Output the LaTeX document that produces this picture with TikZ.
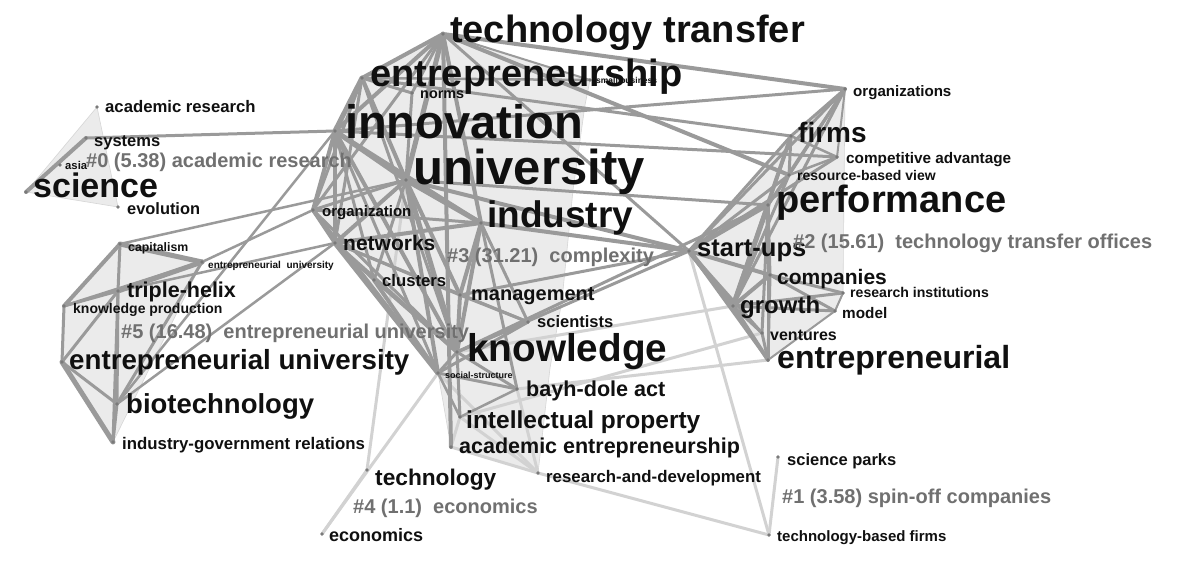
\documentclass[tikz,border=0pt]{standalone}
\usepackage{fontspec}
\setmainfont{Liberation Sans}
\definecolor{edgec}{HTML}{9A9A9A}
\definecolor{lightc}{HTML}{D2D2D2}
\definecolor{hullc}{HTML}{EBEBEB}
\definecolor{hulld}{HTML}{D6D6D6}
\definecolor{labc}{HTML}{101010}
\definecolor{clc}{HTML}{707070}
\definecolor{dotc}{HTML}{7A7A7A}
\tikzset{
  kwlab/.style={anchor=base west,inner sep=0pt,text=labc},
  cllab/.style={anchor=base west,inner sep=0pt,text=clc},
  edge/.style={draw=edgec,line cap=round},
  ledge/.style={draw=lightc,line width=3pt,line cap=round},
  hull/.style={fill=hullc,draw=hulld,line width=0.6pt,line join=round},
  kwdot/.style={fill=dotc,draw=none}
}
\newcommand\kw[5]{\node[kwlab,font=\fontsize{#4}{#4}\selectfont\bfseries] (#1-l) at (#2,#3) {#5};}
\newcommand\cl[5]{\node[cllab,font=\fontsize{#4}{#4}\selectfont\bfseries] (#1) at (#2,#3) {#5};}
\begin{document}
\begin{tikzpicture}[x=1pt,y=-1pt]
\useasboundingbox (0,0) rectangle (1181,561);
\fill[white] (0,0) rectangle (1181,561);
% keyword points
\coordinate (tt) at (443,34);
\coordinate (ent) at (362,78);
\coordinate (norms) at (412,93);
\coordinate (sb) at (590,80);
\coordinate (inn) at (335,131);
\coordinate (uni) at (406,180);
\coordinate (ind) at (481,223);
\coordinate (org) at (313,210);
\coordinate (net) at (335,243);
\coordinate (clu) at (374,280);
\coordinate (mgmt) at (460,295);
\coordinate (scie) at (528,322);
\coordinate (kno) at (457,352);
\coordinate (soc) at (438,373);
\coordinate (bda) at (517,389);
\coordinate (ip) at (460,417);
\coordinate (ae) at (451,447);
\coordinate (tech) at (367,470);
\coordinate (econ) at (322,534);
\coordinate (rd) at (538,473);
\coordinate (sp) at (778,457);
\coordinate (tbf) at (769,535);
\coordinate (entl) at (768,360);
\coordinate (ven) at (762,333);
\coordinate (gro) at (733,306);
\coordinate (mod) at (835,311);
\coordinate (ri) at (843,293);
\coordinate (comp) at (770,275);
\coordinate (su) at (689,251);
\coordinate (perf) at (768,205);
\coordinate (rbv) at (789,175);
\coordinate (ca) at (837,157);
\coordinate (firms) at (791,136);
\coordinate (orgs) at (845,89);
\coordinate (ar) at (97,107);
\coordinate (sys) at (86,138);
\coordinate (asia) at (60,165);
\coordinate (sci) at (26,192);
\coordinate (evo) at (118,207);
\coordinate (cap) at (120,244);
\coordinate (eu2) at (202,262);
\coordinate (th) at (118,291);
\coordinate (kp) at (64,306);
\coordinate (eu) at (62,362);
\coordinate (bio) at (117,404);
\coordinate (igr) at (113,442);
\coordinate (h3a) at (585,105);
\coordinate (h3b) at (573,190);
\coordinate (h3c) at (562,300);
\coordinate (h3d) at (550,368);
% cluster hulls
\path[hull] (ar) -- (sci) -- (evo) -- cycle;
\path[hull] (cap) -- (eu2) -- (igr) -- (eu) -- (kp) -- cycle;
\path[hull] (tt) -- (sb) -- (h3a) -- (h3b) -- (h3c) -- (h3d) -- (rd) -- (ae) -- (soc) -- (org) -- (inn) -- (ent) -- cycle;
\path[hull] (orgs) -- (ri) -- (mod) -- (entl) -- (su) -- (firms) -- cycle;
% light edges
\foreach \a/\b in {su/tbf,sp/tbf,rd/tbf,econ/tech,econ/soc,tech/uni,bda/entl,ip/ven,kno/gro,ae/rd,ip/rd,bda/rd,soc/rd,ae/ip}
  \draw[ledge] (\a) -- (\b);
% dark edges
\foreach \a/\b/\w in {sci/sys/4,sys/inn/3,
  cap/eu2/5,cap/th/3,cap/kp/4,th/eu2/5,kp/eu2/3,kp/th/3,kp/eu/3,th/eu/3,th/bio/3,th/igr/3,eu/bio/3,eu/igr/5,bio/igr/3,eu2/bio/3,eu2/org/2.5,cap/uni/2.5,inn/bio/2.5,bio/net/2.5,th/net/2.5,
  tt/ent/4,tt/inn/4,tt/uni/5,tt/ind/4,tt/ae/4,tt/norms/3,tt/org/3,tt/orgs/4,tt/rbv/4,tt/su/3,tt/sb/2,
  ent/inn/5,ent/uni/4,ent/norms/3,ent/sb/2.5,ent/org/3,ent/net/3,ent/kno/3,ent/firms/3,
  inn/uni/5,inn/org/4,inn/net/4,inn/clu/3,inn/ind/4,inn/kno/4,inn/soc/3,inn/orgs/3,inn/ca/3,
  uni/ind/5,uni/net/4,uni/org/3,uni/kno/5,uni/mgmt/4,uni/su/4,uni/soc/4,uni/clu/3,uni/perf/3,norms/uni/3,
  ind/mgmt/4,ind/kno/4,ind/net/4,ind/su/4,ind/bda/3,ind/scie/3,ind/org/3,
  net/clu/3,net/kno/4,net/soc/5,net/mgmt/3,net/org/4,net/scie/3,
  org/kno/3,org/soc/4,clu/kno/3,clu/soc/4,mgmt/kno/4,mgmt/scie/3,mgmt/su/3,
  kno/soc/3,kno/scie/3,kno/bda/3,kno/ip/3,kno/perf/3,kno/su/3,soc/bda/3,soc/ip/2.5,soc/scie/3,bda/ip/2.5,
  orgs/firms/3,orgs/rbv/3,orgs/perf/3,orgs/ca/2,orgs/su/3,orgs/gro/3,
  firms/rbv/3,firms/perf/3,firms/su/3,firms/gro/4,firms/ca/2.5,ca/rbv/2.5,ca/su/3,
  rbv/perf/3,rbv/su/3,rbv/gro/3,perf/su/4,perf/gro/5,perf/comp/3,perf/entl/3,perf/ven/3,
  su/gro/5,su/comp/4,su/entl/3,su/ven/3,gro/comp/4,gro/entl/4,gro/ven/3,gro/mod/3,gro/ri/3,
  comp/mod/3,comp/ri/3,comp/entl/3,ri/mod/2,ven/entl/3,entl/mod/2}
  \draw[edge,line width=\w pt] (\a) -- (\b);
% node dots
\foreach \n in {tt,ent,norms,sb,inn,uni,ind,org,net,clu,mgmt,scie,kno,soc,bda,ip,ae,tech,econ,rd,sp,tbf,entl,ven,gro,mod,ri,comp,su,perf,rbv,ca,firms,orgs,ar,sys,asia,sci,evo,cap,eu2,th,kp,eu,bio,igr}
  \fill[kwdot] (\n) circle (1.8pt);
% keyword labels
\kw{tt}{450}{43}{38}{technology transfer}
\kw{ent}{370}{87}{38}{entrepreneurship}
\kw{norms}{420}{99}{14.4}{norms}
\kw{inn}{345}{139}{47}{innovation}
\kw{sb}{596}{84}{8.5}{small business}
\kw{uni}{413}{185}{49}{university}
\kw{ind}{487}{228}{37}{industry}
\kw{org}{322}{217}{15}{organization}
\kw{net}{343}{251}{21}{networks}
\kw{clu}{382}{287}{16.7}{clusters}
\kw{mgmt}{471}{301}{20}{management}
\kw{scie}{537}{328}{16.5}{scientists}
\kw{kno}{467}{362}{38.7}{knowledge}
\kw{soc}{445}{378}{9}{social-structure}
\kw{bda}{526}{396}{21.6}{bayh-dole act}
\kw{ip}{466}{428}{24.5}{intellectual property}
\kw{ae}{459}{453}{21.5}{academic entrepreneurship}
\kw{tech}{375}{485}{22.7}{technology}
\kw{econ}{329}{541}{18}{economics}
\kw{rd}{546}{482}{16.8}{research-and-development}
\kw{sp}{787}{465}{16.5}{science parks}
\kw{tbf}{777}{541}{15}{technology-based firms}
\kw{entl}{777}{368}{32}{entrepreneurial}
\kw{ven}{770}{341}{16}{ventures}
\kw{gro}{740}{314}{24}{growth}
\kw{mod}{842}{319}{15.3}{model}
\kw{ri}{850}{298}{14.1}{research institutions}
\kw{comp}{777}{285}{21}{companies}
\kw{su}{697}{257}{25.5}{start-ups}
\kw{perf}{776}{213}{38}{performance}
\kw{rbv}{797}{181}{14}{resource-based view}
\kw{ca}{846}{164}{15.3}{competitive advantage}
\kw{firms}{798}{143}{28}{firms}
\kw{orgs}{853}{97}{15.1}{organizations}
\kw{ar}{105}{113}{16.7}{academic research}
\kw{sys}{94}{147}{16.5}{systems}
\kw{asia}{65}{170}{11.3}{asia}
\kw{sci}{33}{198}{34}{science}
\kw{evo}{127}{215}{16.4}{evolution}
\kw{cap}{128}{252}{12.3}{capitalism}
\kw{eu2}{208}{268.5}{10}{entrepreneurial\ \ university}
\kw{th}{127}{298}{21.5}{triple-helix}
\kw{kp}{73}{314}{14}{knowledge production}
\kw{eu}{69}{370}{27.7}{entrepreneurial university}
\kw{bio}{126}{413}{27.5}{biotechnology}
\kw{igr}{122}{449}{16.8}{industry-government relations}
% cluster labels
\cl{c0}{86}{168}{20}{\#0 (5.38) academic research}
\cl{c5}{121}{338}{20}{\#5 (16.48)\ \ entrepreneurial university}
\cl{c3}{447}{263}{20}{\#3 (31.21)\ \ complexity}
\cl{c2}{793}{249}{20}{\#2 (15.61)\ \ technology transfer offices}
\cl{c4}{353}{513}{20}{\#4 (1.1)\ \ economics}
\cl{c1}{782}{503}{20}{\#1 (3.58) spin-off companies}
\end{tikzpicture}
\end{document}
